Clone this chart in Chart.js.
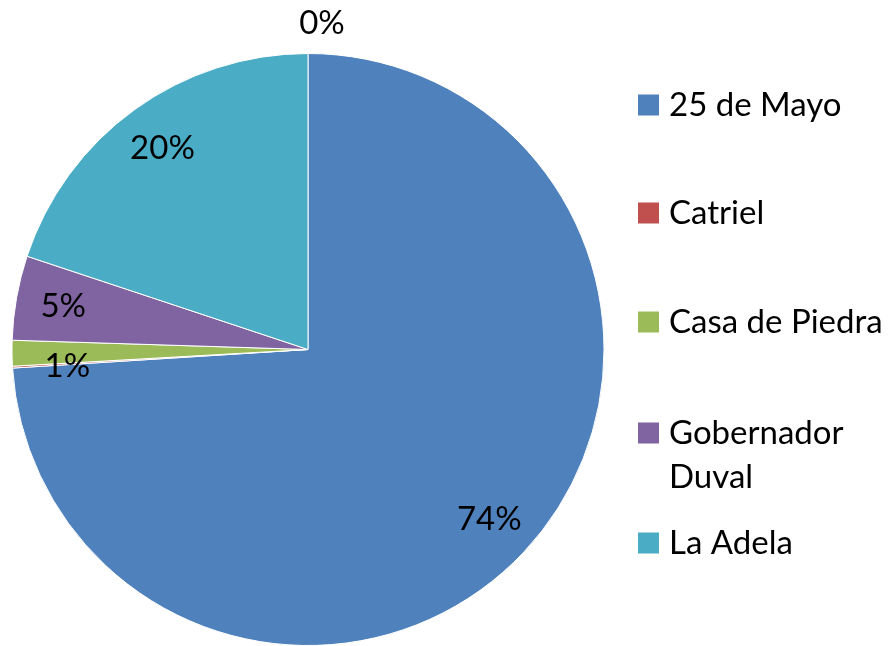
<!DOCTYPE html>
<html>
<head>
<meta charset="utf-8">
<script src="https://cdn.jsdelivr.net/npm/chart.js@4/dist/chart.umd.min.js"></script>
<style>
html,body{margin:0;padding:0;background:#fff;}
#wrap{position:relative;width:894px;height:646px;}
</style>
</head>
<body>
<div id="wrap"><canvas id="c" width="894" height="646"></canvas></div>
<script>
const categories = ["25 de Mayo", "Catriel", "Casa de Piedra", "Gobernador Duval", "La Adela"];
const values = [74.0, 0.1, 1.4, 4.6, 19.9];
const colors = ["#4F81BD", "#C0504D", "#9BBB59", "#8064A2", "#4BACC6"];
const legendLabels = [["25 de Mayo"], ["Catriel"], ["Casa de Piedra"], ["Gobernador", "Duval"], ["La Adela"]];

const FONT = "33px Lato, 'Liberation Sans', sans-serif";

const labelPlugin = {
  id: 'pieLabels',
  afterDatasetsDraw(chart) {
    const ctx = chart.ctx;
    const meta = chart.getDatasetMeta(0);
    const total = values.reduce((a, b) => a + b, 0);
    ctx.save();
    ctx.font = FONT;
    ctx.fillStyle = "#000";
    ctx.textAlign = "center";
    ctx.textBaseline = "middle";
    meta.data.forEach((arc, i) => {
      const pct = Math.round(values[i] / total * 100);
      const p = arc.getProps(['x', 'y', 'startAngle', 'endAngle', 'outerRadius'], true);
      let x, y;
      if (pct === 0) {
        x = p.x + 14;
        y = p.y - p.outerRadius - 30;
      } else {
        const mid = (p.startAngle + p.endAngle) / 2;
        let r = p.outerRadius * 0.84;
        x = p.x + Math.cos(mid) * r;
        y = p.y + Math.sin(mid) * r;
        if (pct <= 2) { x += 8; y += 14; }
      }
      ctx.fillText(pct + "%", x, y);
    });
    ctx.restore();
  }
};

const legendPlugin = {
  id: 'customLegend',
  afterDraw(chart) {
    const ctx = chart.ctx;
    ctx.save();
    ctx.font = FONT;
    ctx.textAlign = "left";
    ctx.textBaseline = "middle";
    const x0 = 638, sq = 21, tx = 669;
    const rowY = [105, 213, 322, 433, 543];
    legendLabels.forEach((lines, i) => {
      ctx.fillStyle = colors[i];
      ctx.fillRect(x0, rowY[i] - sq / 2, sq, sq);
      ctx.fillStyle = "#000";
      lines.forEach((t, k) => ctx.fillText(t, tx, rowY[i] + k * 44));
    });
    ctx.restore();
  }
};

new Chart(document.getElementById('c'), {
  type: 'pie',
  data: {
    labels: categories,
    datasets: [{
      data: values,
      backgroundColor: colors,
      borderColor: "#ffffff",
      borderWidth: 1
    }]
  },
  options: {
    responsive: false,
    animation: false,
    layout: { padding: { left: 11, top: 53, right: 289, bottom: -1 } },
    plugins: {
      legend: { display: false },
      tooltip: { enabled: false },
      title: { display: false }
    }
  },
  plugins: [labelPlugin, legendPlugin]
});
</script>
</body>
</html>
